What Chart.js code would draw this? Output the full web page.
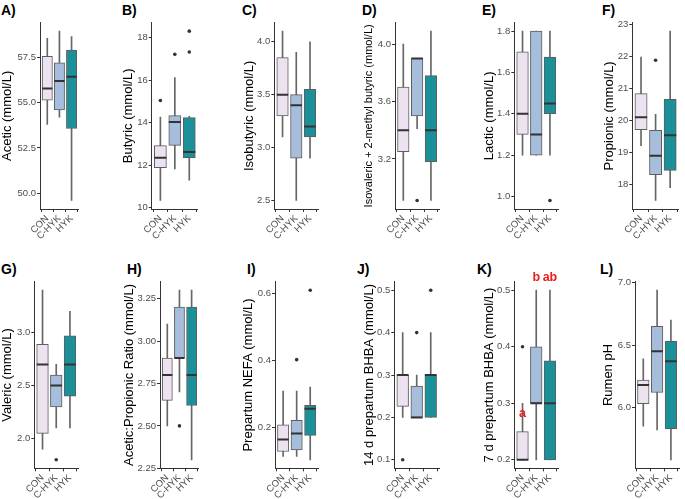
<!DOCTYPE html>
<html>
<head>
<meta charset="utf-8">
<script src="https://cdn.jsdelivr.net/npm/chart.js@4.4.1/dist/chart.umd.min.js"></script>
<style>
  body { margin: 0; background: #fff; width: 685px; height: 499px; position: relative; overflow: hidden; font-family: "Liberation Sans", Arial, sans-serif; }
  canvas { position: absolute; }
  .tag { position: absolute; font-weight: bold; font-size: 14px; line-height: 14px; color: #000; }
</style>
</head>
<body>
<script>
// groups and fill colours
var groups = ['CON', 'C-HYK', 'HYK'];
var boxColors = ['#ECE2F0', '#A6BDDB', '#1C9099'];

// each group: [lower whisker, q1, median, q3, upper whisker]
var acetic = [[53.8, 55.13, 55.78, 57.55, 58.55], [54.2, 54.6, 56.19, 57.2, 58.94], [49.6, 53.57, 56.43, 57.9, 58.64]];
var aceticOut = [[], [], []];
var aceticTicks = [50, 52.5, 55, 57.5];

var butyric = [[10.34, 11.88, 12.35, 12.92, 14.26], [11.83, 12.93, 14.03, 14.33, 16.12], [11.3, 12.35, 12.62, 14.24, 14.3]];
var butyricOut = [[15.04], [17.21], [17.32, 18.3]];
var butyricTicks = [10, 12, 14, 16, 18];

var isobutyric = [[3.1, 3.3, 3.5, 3.85, 4.1], [2.5, 2.9, 3.4, 3.5, 3.9], [2.9, 3.1, 3.2, 3.55, 4.0]];
var isobutyricOut = [[], [], []];
var isobutyricTicks = [2.5, 3.0, 3.5, 4.0];

var isovaleric = [[2.91, 3.25, 3.4, 3.7, 4.0], [3.41, 3.5, 3.9, 3.9, 3.9], [2.91, 3.18, 3.4, 3.78, 4.09]];
var isovalericOut = [[], [2.91], []];
var isovalericTicks = [3.2, 3.6, 4.0];

var lactic = [[1.2, 1.3, 1.4, 1.7, 1.8], [1.2, 1.2, 1.3, 1.8, 1.8], [1.2, 1.4, 1.45, 1.675, 1.8]];
var lacticOut = [[], [], [0.98]];
var lacticTicks = [1.0, 1.2, 1.4, 1.6, 1.8];

var propionic = [[19.21, 19.71, 20.1, 20.84, 21.98], [17.5, 18.31, 18.9, 19.69, 20.19], [17.9, 18.44, 19.54, 20.66, 22.79]];
var propionicOut = [[], [21.88], []];
var propionicTicks = [18, 19, 20, 21, 22, 23];

var valeric = [[1.9, 2.05, 2.7, 2.89, 3.4], [2.1, 2.3, 2.5, 2.6, 2.7], [2.1, 2.4, 2.7, 2.97, 3.2]];
var valericOut = [[], [1.8], []];
var valericTicks = [2.0, 2.5, 3.0];

var apRatio = [[2.5, 2.65, 2.8, 2.9, 3.1], [2.7, 2.9, 2.9, 3.2, 3.3], [2.3, 2.62, 2.8, 3.2, 3.3]];
var apRatioOut = [[], [2.5], []];
var apRatioTicks = [2.25, 2.5, 2.75, 3.0, 3.25];

var nefa = [[0.112, 0.127, 0.163, 0.207, 0.308], [0.112, 0.132, 0.181, 0.22, 0.308], [0.102, 0.175, 0.255, 0.265, 0.32]];
var nefaOut = [[], [0.402], [0.61]];
var nefaTicks = [0.2, 0.4, 0.6];

var bhba14 = [[0.2, 0.226, 0.3, 0.3, 0.4], [0.2, 0.2, 0.2, 0.274, 0.3], [0.2, 0.2, 0.3, 0.3, 0.4]];
var bhba14Out = [[0.1], [0.4], [0.5]];
var bhba14Ticks = [0.1, 0.2, 0.3, 0.4, 0.5];

var bhba7 = [[0.2, 0.2, 0.2, 0.25, 0.3], [0.2, 0.3, 0.3, 0.4, 0.5], [0.2, 0.2, 0.3, 0.375, 0.5]];
var bhba7Out = [[0.4], [], []];
var bhba7Ticks = [0.2, 0.3, 0.4, 0.5];
var bhba7Letters = ['a', 'b', 'ab'];
var bhba7LetterY = [0.275, 0.516, 0.516];

var rumenPh = [[5.85, 6.03, 6.18, 6.22, 6.39], [5.82, 6.12, 6.45, 6.65, 6.94], [5.58, 5.83, 6.37, 6.53, 6.7]];
var rumenPhOut = [[], [], []];
var rumenPhTicks = [6.0, 6.5, 7.0];

var FONT = '"Liberation Sans", Arial, sans-serif';
Chart.defaults.font.family = FONT;

var panels = [
  {tag: 'A)', title: 'Acetic (mmol/L)', stats: acetic, out: aceticOut, ticks: aceticTicks, dec: 1, row: 0, axisX: 40, endX: 84, titleX: 7.5, tagX: 1},
  {tag: 'B)', title: 'Butyric (mmol/L)', stats: butyric, out: butyricOut, ticks: butyricTicks, dec: 0, row: 0, axisX: 151.7, endX: 203.3, titleX: 128, tagX: 122},
  {tag: 'C)', title: 'Isobutyric (mmol/L)', stats: isobutyric, out: isobutyricOut, ticks: isobutyricTicks, dec: 1, row: 0, axisX: 274.3, endX: 323.3, titleX: 249, tagX: 242},
  {tag: 'D)', title: 'Isovaleric + 2-methyl butyric (mmol/L)', stats: isovaleric, out: isovalericOut, ticks: isovalericTicks, dec: 1, row: 0, axisX: 395, endX: 444.3, titleX: 369, tagX: 362, titleSize: 11},
  {tag: 'E)', title: 'Lactic (mmol/L)', stats: lactic, out: lacticOut, ticks: lacticTicks, dec: 1, row: 0, axisX: 514.3, endX: 564, titleX: 489, tagX: 482},
  {tag: 'F)', title: 'Propionic (mmol/L)', stats: propionic, out: propionicOut, ticks: propionicTicks, dec: 0, row: 0, axisX: 632.3, endX: 684.5, titleX: 609, tagX: 602},
  {tag: 'G)', title: 'Valeric (mmol/L)', stats: valeric, out: valericOut, ticks: valericTicks, dec: 1, row: 1, axisX: 34.3, endX: 84, titleX: 7.5, tagX: 1},
  {tag: 'H)', title: 'Acetic:Propionic Ratio (mmol/L)', stats: apRatio, out: apRatioOut, ticks: apRatioTicks, dec: 2, row: 1, axisX: 160, endX: 203.3, titleX: 129, tagX: 127},
  {tag: 'I)', title: 'Prepartum NEFA (mmol/L)', stats: nefa, out: nefaOut, ticks: nefaTicks, dec: 1, row: 1, axisX: 275, endX: 323.3, titleX: 248.5, tagX: 247},
  {tag: 'J)', title: '14 d prepartum BHBA (mmol/L)', stats: bhba14, out: bhba14Out, ticks: bhba14Ticks, dec: 1, row: 1, axisX: 394.3, endX: 444.3, titleX: 369, tagX: 357},
  {tag: 'K)', title: '7 d prepartum BHBA (mmol/L)', stats: bhba7, out: bhba7Out, ticks: bhba7Ticks, dec: 1, row: 1, axisX: 514.3, endX: 564, titleX: 489, tagX: 477,
    letters: bhba7Letters, letterY: bhba7LetterY},
  {tag: 'L)', title: 'Rumen pH', stats: rumenPh, out: rumenPhOut, ticks: rumenPhTicks, dec: 1, row: 1, axisX: 635, endX: 684.5, titleX: 608, tagX: 600}
];

// red significance letters drawn at data positions
var lettersPlugin = {
  id: 'letters',
  afterDatasetsDraw: function (chart) {
    var p = chart.options.plugins.letters;
    if (!p || !p.text) return;
    var ctx = chart.ctx;
    ctx.save();
    ctx.fillStyle = '#f01c1c';
    ctx.font = 'bold 12.5px ' + FONT;
    ctx.textAlign = 'center';
    ctx.textBaseline = 'alphabetic';
    p.text.forEach(function (t, i) {
      ctx.fillText(t, chart.scales.x.getPixelForValue(i + 1), chart.scales.y.getPixelForValue(p.y[i]));
    });
    ctx.restore();
  }
};

function drawPanel(p) {
  var fs = p.titleSize || 13;
  var lh = fs * 1.2;
  var top = p.row ? 250 : 0;
  var h = p.row ? 249 : 250;
  var plotTop = (p.row ? 281.7 : 22.7) - top;
  var plotBottom = (p.row ? 468.3 : 209) - top;
  var x0 = p.titleX - lh / 2;
  var left = Math.floor(x0);
  var padL = x0 - left;
  var w = Math.ceil(p.endX - left) + 2;
  var padR = w - (p.endX - left);
  var bw = 0.75 * (p.endX - p.axisX) / 3.2;

  var tag = document.createElement('div');
  tag.className = 'tag';
  tag.textContent = p.tag;
  tag.style.left = p.tagX + 'px';
  tag.style.top = (p.row ? 261.5 : 3.2) + 'px';
  document.body.appendChild(tag);

  var cv = document.createElement('canvas');
  cv.width = w; cv.height = h;
  cv.style.left = left + 'px'; cv.style.top = top + 'px';
  document.body.appendChild(cv);

  var all = [];
  p.stats.forEach(function (s) { all = all.concat(s); });
  p.out.forEach(function (o) { all = all.concat(o); });
  var lo = Math.min.apply(null, all), hi = Math.max.apply(null, all);
  var ex = (hi - lo) * 0.05;

  var outPts = [];
  p.out.forEach(function (o, i) { o.forEach(function (v) { outPts.push({x: i + 1, y: v}); }); });

  var tickFont = {size: 9.5, family: FONT};
  var axisGrid = {drawOnChartArea: false, drawTicks: true, tickLength: 3, color: '#333'};
  var axisBorder = {display: true, color: '#333', width: 1};

  new Chart(cv, {
    type: 'bar',
    data: {
      datasets: [
        {type: 'bar', data: p.stats.map(function (s, i) { return {x: i + 1, y: [s[0], s[4]]}; }),
          backgroundColor: '#666', borderWidth: 0, barThickness: 1, grouped: false, order: 4},
        {type: 'bar', data: p.stats.map(function (s, i) { return {x: i + 1, y: [s[1], s[3]]}; }),
          backgroundColor: boxColors, borderColor: '#5e5e5e', borderWidth: 1, borderSkipped: false,
          barThickness: bw, grouped: false, order: 3},
        {type: 'line', data: p.stats.map(function (s, i) { return {x: i + 1, y: s[2]}; }),
          showLine: false, pointStyle: 'line', pointRadius: bw / 2, pointHoverRadius: bw / 2,
          pointBorderWidth: 2, pointBorderColor: '#333', order: 2},
        {type: 'line', data: outPts, showLine: false, pointRadius: 1.8, pointHoverRadius: 1.8,
          pointBackgroundColor: '#333', pointBorderWidth: 0, order: 1}
      ]
    },
    options: {
      responsive: false,
      animation: false,
      events: [],
      layout: {padding: {left: padL, right: padR, top: plotTop, bottom: 0}},
      plugins: {
        legend: {display: false},
        tooltip: {enabled: false},
        letters: {text: p.letters, y: p.letterY}
      },
      scales: {
        x: {
          type: 'linear', min: 0.4, max: 3.6, offset: false,
          afterBuildTicks: function (s) { s.ticks = [1, 2, 3].map(function (v) { return {value: v}; }); },
          afterFit: function (s) { s.height = h - plotBottom; },
          ticks: {callback: function (v) { return groups[v - 1]; }, autoSkip: false, minRotation: 45, maxRotation: 45,
            padding: 1, color: '#4d4d4d', font: tickFont},
          grid: axisGrid,
          border: axisBorder
        },
        y: {
          min: lo - ex, max: hi + ex, beginAtZero: false,
          afterBuildTicks: function (s) { s.ticks = p.ticks.map(function (v) { return {value: v}; }); },
          afterFit: function (s) { s.width = p.axisX - x0; },
          ticks: {callback: function (v) { return v.toFixed(p.dec); }, padding: 1, color: '#4d4d4d', font: tickFont},
          grid: axisGrid,
          border: axisBorder,
          title: {display: true, text: p.title, color: '#000', padding: 0, font: {size: fs, family: FONT}}
        }
      }
    },
    plugins: [lettersPlugin]
  });
}

panels.forEach(drawPanel);
</script>
</body>
</html>
